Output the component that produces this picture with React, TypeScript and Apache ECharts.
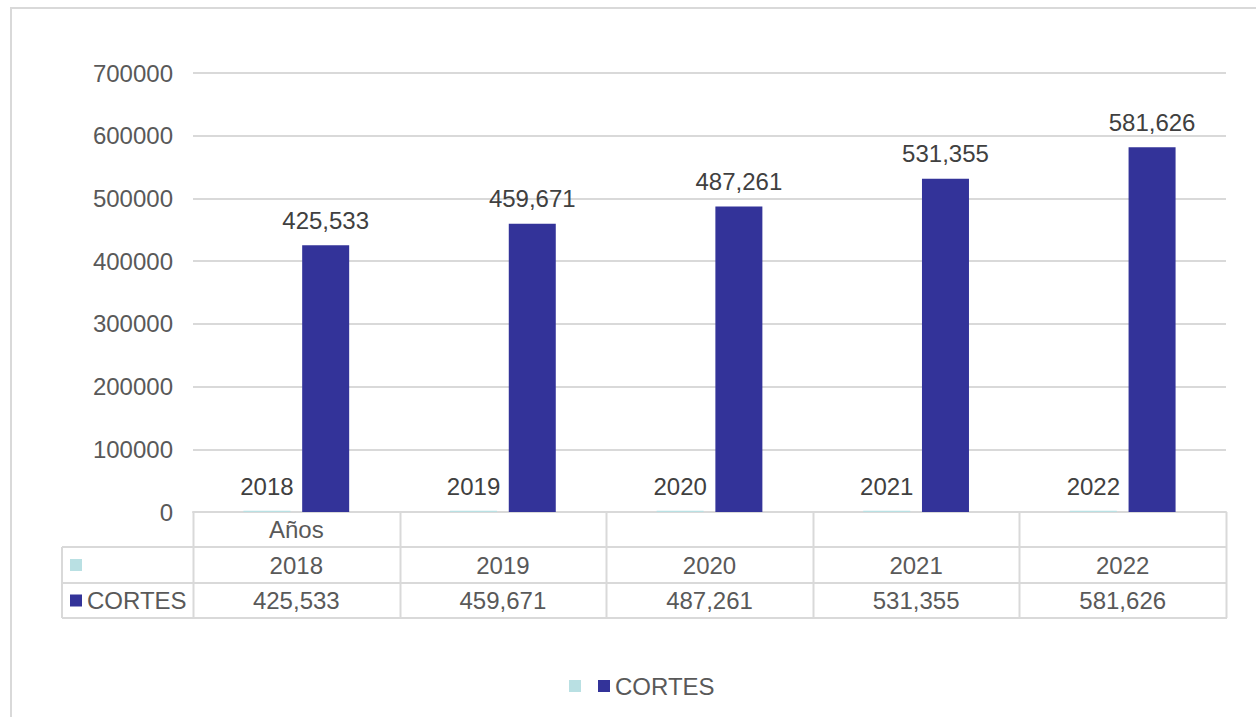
import React, { useEffect, useRef } from "react";
import * as echarts from "echarts";

const categories = ["2018", "2019", "2020", "2021", "2022"];
const yearValues = [2018, 2019, 2020, 2021, 2022];
const cortesValues = [425533, 459671, 487261, 531355, 581626];
const tableHeaderRow = ["Años", "", "", "", ""];
const yearsSeriesName = "Años";
const cortesSeriesName = "CORTES";

const W = 1256;
const H = 717;
const GRID_LEFT = 193;
const GRID_RIGHT_X = 1226;
const GRID_TOP = 73;
const GRID_BOTTOM_Y = 512;
const ROW_Y = [512, 547, 583, 618];
const HEADER_LEFT = 62;
const FONT = "'Liberation Sans', Arial, sans-serif";
const TEXT = "#595959";
const LABEL = "#404040";
const LINE = "#D9D9D9";
const CYAN = "#B9E0E3";
const NAVY = "#333399";

const fmt = (v: number) => v.toLocaleString("en-US");

export default function App() {
  const ref = useRef<HTMLDivElement>(null);
  useEffect(() => {
    if (!ref.current) return;
    const chart = echarts.init(ref.current, undefined, { renderer: "svg" });
    const n = categories.length;
    const colW = (GRID_RIGHT_X - GRID_LEFT) / n;
    const graphics: any[] = [];
    graphics.push({
      type: "rect",
      shape: { x: 11, y: 8, width: 1400, height: 900 },
      style: { fill: "none", stroke: LINE, lineWidth: 2 },
      silent: true,
    });
    for (let i = 0; i <= n; i++) {
      const x = Math.round(GRID_LEFT + i * colW) + 0.5;
      graphics.push({
        type: "line",
        shape: { x1: x, y1: ROW_Y[0], x2: x, y2: ROW_Y[3] },
        style: { stroke: LINE, lineWidth: 2 },
        silent: true,
      });
    }
    graphics.push({
      type: "line",
      shape: { x1: HEADER_LEFT, y1: ROW_Y[1], x2: HEADER_LEFT, y2: ROW_Y[3] },
      style: { stroke: LINE, lineWidth: 2 },
      silent: true,
    });
    for (let r = 1; r < ROW_Y.length; r++) {
      graphics.push({
        type: "line",
        shape: { x1: HEADER_LEFT, y1: ROW_Y[r], x2: GRID_RIGHT_X + 1, y2: ROW_Y[r] },
        style: { stroke: LINE, lineWidth: 2 },
        silent: true,
      });
    }
    const rows = [
      tableHeaderRow,
      yearValues.map((v) => String(v)),
      cortesValues.map((v) => fmt(v)),
    ];
    rows.forEach((row, r) => {
      const cy = (ROW_Y[r] + ROW_Y[r + 1]) / 2;
      row.forEach((t, i) => {
        if (!t) return;
        graphics.push({
          type: "text",
          x: GRID_LEFT + (i + 0.5) * colW,
          y: cy,
          style: {
            text: t,
            fill: TEXT,
            font: `24px ${FONT}`,
            align: "center",
            verticalAlign: "middle",
          },
          silent: true,
        });
      });
    });
    const keyRows = [
      { color: CYAN, name: "", r: 1 },
      { color: NAVY, name: cortesSeriesName, r: 2 },
    ];
    keyRows.forEach((k) => {
      const cy = (ROW_Y[k.r] + ROW_Y[k.r + 1]) / 2;
      graphics.push({
        type: "rect",
        shape: { x: 70, y: cy - 6, width: 12, height: 12 },
        style: { fill: k.color },
        silent: true,
      });
      if (k.name) {
        graphics.push({
          type: "text",
          x: 87,
          y: cy,
          style: {
            text: k.name,
            fill: TEXT,
            font: `24px ${FONT}`,
            align: "left",
            verticalAlign: "middle",
          },
          silent: true,
        });
      }
    });

    chart.setOption({
      animation: false,
      backgroundColor: "#ffffff",
      textStyle: { fontFamily: FONT },
      grid: {
        left: GRID_LEFT,
        right: W - GRID_RIGHT_X,
        top: GRID_TOP,
        bottom: H - GRID_BOTTOM_Y,
        outerBoundsMode: "none",
        containLabel: false,
      },
      legend: {
        left: 564,
        top: 669,
        icon: "rect",
        itemWidth: 12,
        itemHeight: 12,
        itemGap: 17,
        data: [yearsSeriesName, cortesSeriesName],
        formatter: (name: string) => (name === cortesSeriesName ? name : ""),
        textStyle: { fontSize: 24, color: TEXT, fontFamily: FONT },
        selectedMode: false,
      },
      xAxis: {
        type: "category",
        data: categories,
        axisLabel: { show: false },
        axisTick: { show: false },
        axisLine: { show: true, lineStyle: { color: LINE, width: 2 } },
      },
      yAxis: {
        type: "value",
        min: 0,
        max: 700000,
        interval: 100000,
        axisLabel: {
          fontSize: 24,
          color: TEXT,
          margin: 20,
          fontFamily: FONT,
          formatter: (v: number) => String(v),
        },
        axisLine: { show: false },
        axisTick: { show: false },
        splitLine: { lineStyle: { color: LINE, width: 2 } },
      },
      series: [
        {
          name: yearsSeriesName,
          type: "bar",
          data: yearValues,
          barWidth: 47,
          barGap: "25%",
          itemStyle: { color: CYAN },
          label: {
            show: true,
            position: "top",
            distance: 12,
            fontSize: 24,
            color: LABEL,
            fontFamily: FONT,
          },
        },
        {
          name: cortesSeriesName,
          type: "bar",
          data: cortesValues,
          barWidth: 47,
          barGap: "25%",
          itemStyle: { color: NAVY },
          label: {
            show: true,
            position: "top",
            distance: 13,
            fontSize: 24,
            color: LABEL,
            fontFamily: FONT,
            formatter: (p: any) => fmt(p.value),
          },
        },
      ],
      graphic: graphics,
    });
    return () => chart.dispose();
  }, []);
  return (
    <div
      ref={ref}
      style={{ position: "fixed", left: 0, top: 0, width: W, height: H }}
    />
  );
}
